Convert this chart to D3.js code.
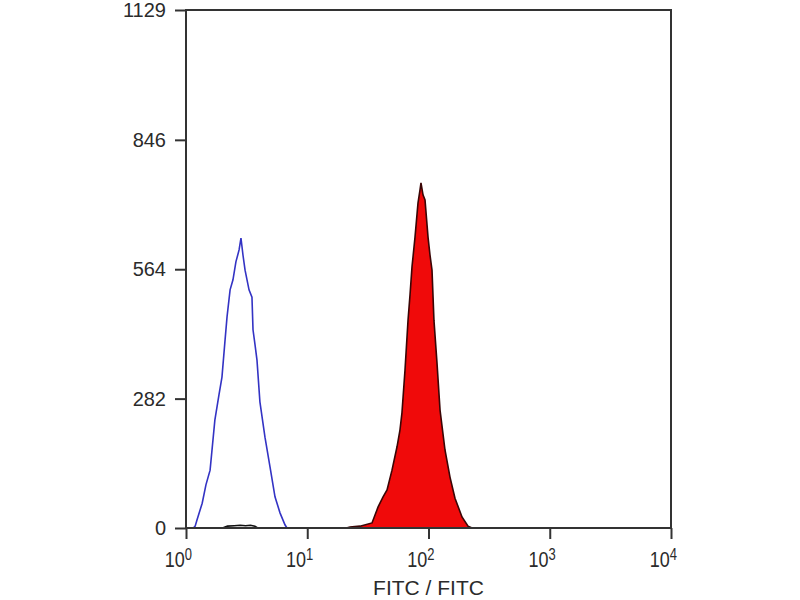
<!DOCTYPE html>
<html>
<head>
<meta charset="utf-8">
<script src="https://cdn.jsdelivr.net/npm/d3@7"></script>
<style>
  body { margin: 0; background: #fff; }
  .tick-label { font-family: "Liberation Sans", Arial, sans-serif; fill: #2b2b2b; }
</style>
</head>
<body>
<div id="chart"></div>
<script>
// data (FITC intensity, event count)
var blueFitc = [1.15, 1.19, 1.23, 1.36, 1.46, 1.58, 1.73, 1.87, 1.98, 2.10, 2.18, 2.31, 2.44, 2.58, 2.74, 2.84, 2.95, 3.07, 3.31, 3.50, 3.57, 3.71, 3.85, 4.07, 4.48, 4.93, 5.42, 5.96, 6.55, 6.8];
var blueCount = [0, 4, 17, 54, 94, 126, 235, 290, 329, 410, 460, 519, 541, 580, 606, 632, 595, 562, 519, 503, 432, 399, 366, 275, 198, 133, 68, 33, 7, 0];

var redFitc = [21, 22.5, 27.2, 34.2, 38.4, 42.2, 45.5, 50.0, 55.0, 58.2, 60.4, 64.0, 67.8, 70.4, 73.1, 77.4, 81.9, 85.1, 86.7, 90.1, 93.6, 99.1, 102.9, 106.9, 110.9, 117.5, 124.5, 136.8, 150.4, 165.4, 188.9, 211.9, 228.6];
var redCount = [0, 2, 4, 11, 46, 68, 83, 126, 177, 214, 251, 344, 453, 508, 569, 634, 708, 737, 752, 726, 715, 634, 595, 562, 453, 360, 257, 170, 111, 65, 24, 4, 0];

var blackFitc = [2.0, 2.2, 2.5, 2.8, 3.1, 3.4, 3.7, 3.9];
var blackCount = [0, 4, 5, 6, 5, 6, 4, 0];

var yTicks = [0, 282, 564, 846, 1129];
var xExponents = [0, 1, 2, 3, 4];
var xTitle = "FITC / FITC";

var margin = {top: 10, right: 129, bottom: 72, left: 186};
var width = 800 - margin.left - margin.right;
var height = 600 - margin.top - margin.bottom;

var svg = d3.select("#chart")
    .append("svg")
    .attr("width", 800)
    .attr("height", 600)
    .append("g")
    .attr("transform", "translate(" + margin.left + "," + margin.top + ")");

// ---------------------------//
//       SCALES               //
// ---------------------------//
var x = d3.scaleLog()
    .domain([1, 10000])
    .range([0, width]);

var y = d3.scaleLinear()
    .domain([0, 1129])
    .range([height, 0]);

function toPoints(xs, ys) {
    return xs.map(function(v, i) { return [v, ys[i]]; });
}

// ---------------------------//
//       HISTOGRAMS           //
// ---------------------------//
var area = d3.area()
    .x(function(d) { return x(d[0]); })
    .y0(y(0))
    .y1(function(d) { return y(d[1]); });

var line = d3.line()
    .x(function(d) { return x(d[0]); })
    .y(function(d) { return y(d[1]); });

svg.append("path")
    .datum(toPoints(redFitc, redCount))
    .attr("d", area)
    .style("fill", "#f00a0a")
    .style("stroke", "#3a0505")
    .style("stroke-width", 1.6);

svg.append("path")
    .datum(toPoints(blueFitc, blueCount))
    .attr("d", line)
    .style("fill", "none")
    .style("stroke", "#3333c4")
    .style("stroke-width", 1.6);

svg.append("path")
    .datum(toPoints(blackFitc, blackCount))
    .attr("d", line)
    .style("fill", "none")
    .style("stroke", "#111")
    .style("stroke-width", 1.6);

// ---------------------------//
//       AXES                 //
// ---------------------------//
var yAxis = svg.append("g")
    .call(d3.axisLeft(y).tickValues(yTicks).tickFormat(d3.format("d"))
        .tickSize(11).tickPadding(9));

var xAxis = svg.append("g")
    .attr("transform", "translate(0," + height + ")")
    .call(d3.axisBottom(x).tickValues(xExponents.map(function(e) { return Math.pow(10, e); }))
        .tickSize(11).tickFormat(""));

[yAxis, xAxis].forEach(function(g) {
    g.select(".domain").remove();
    g.selectAll(".tick line").attr("stroke", "#333").attr("stroke-width", 2);
});

yAxis.selectAll(".tick text")
    .attr("class", "tick-label")
    .style("font-size", "20px");

// frame: left axis, bottom axis, top and right border
svg.append("rect")
    .attr("x", 0)
    .attr("y", 0)
    .attr("width", width)
    .attr("height", height)
    .style("fill", "none")
    .style("stroke", "#333")
    .style("stroke-width", 2);

// x tick labels with superscripts
var xLabels = svg.selectAll("xlabel")
    .data(xExponents)
    .enter()
    .append("text")
    .attr("class", "tick-label")
    .attr("text-anchor", "end")
    .attr("transform", function(d) {
        return "translate(" + (x(Math.pow(10, d)) + 6) + "," + (height + 39) + ") scale(1,1.25)";
    })
    .style("font-size", "18px");

xLabels.append("tspan").text("10");
xLabels.append("tspan")
    .attr("dy", "-0.45em")
    .style("font-size", "13px")
    .text(function(d) { return d; });

// x axis title
svg.append("text")
    .attr("class", "tick-label")
    .attr("text-anchor", "middle")
    .attr("x", x(100))
    .attr("y", height + 67)
    .style("font-size", "21px")
    .text(xTitle);
</script>
</body>
</html>
